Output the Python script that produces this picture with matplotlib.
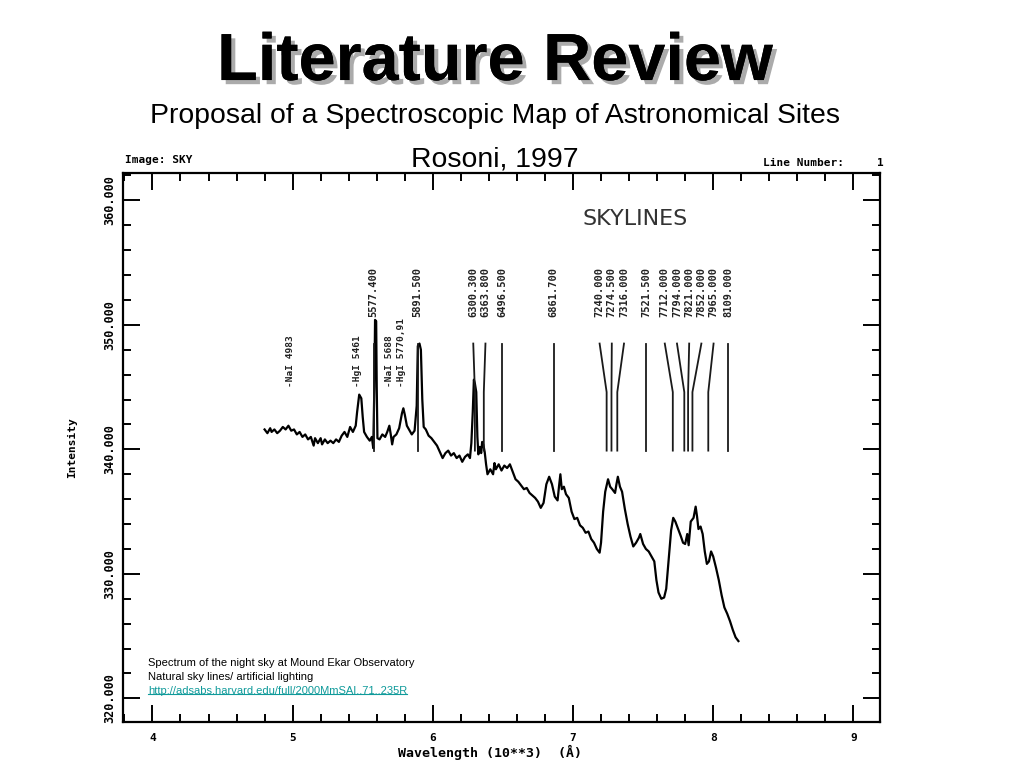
import matplotlib
matplotlib.use('Agg')
import matplotlib.pyplot as plt
import matplotlib.patheffects as pe
from matplotlib.ticker import MultipleLocator, FormatStrFormatter
from matplotlib.lines import Line2D

# night sky spectrum, wavelength in 10**3 A
wavelength = [4.80, 4.82, 4.84, 4.85, 4.87, 4.89, 4.91, 4.93, 4.95, 4.97,
              4.99, 5.01, 5.03, 5.05, 5.07, 5.09, 5.11, 5.13, 5.15, 5.16,
              5.18, 5.20, 5.21, 5.23, 5.25, 5.27, 5.29, 5.31, 5.33, 5.35,
              5.37, 5.39, 5.41, 5.43, 5.45, 5.46, 5.475, 5.49, 5.50, 5.51,
              5.53, 5.55, 5.565, 5.575, 5.583, 5.588, 5.596, 5.600, 5.605, 5.62,
              5.64, 5.66, 5.675, 5.69, 5.70, 5.71, 5.72, 5.74, 5.76, 5.78,
              5.79, 5.80, 5.815, 5.83, 5.85, 5.87, 5.885, 5.893, 5.905, 5.915,
              5.925, 5.935, 5.95, 5.97, 5.99, 6.01, 6.03, 6.05, 6.07, 6.09,
              6.11, 6.13, 6.15, 6.17, 6.19, 6.21, 6.23, 6.25, 6.265, 6.275,
              6.285, 6.293, 6.30, 6.31, 6.318, 6.325, 6.335, 6.345, 6.352, 6.36,
              6.37, 6.38, 6.39, 6.41, 6.43, 6.44, 6.45, 6.47, 6.49, 6.51,
              6.53, 6.55, 6.57, 6.59, 6.61, 6.63, 6.65, 6.67, 6.69, 6.71,
              6.73, 6.75, 6.77, 6.79, 6.81, 6.83, 6.85, 6.87, 6.89, 6.90,
              6.91, 6.92, 6.935, 6.95, 6.97, 6.99, 7.01, 7.03, 7.05, 7.07,
              7.09, 7.11, 7.13, 7.15, 7.17, 7.19, 7.20, 7.215, 7.23, 7.25,
              7.265, 7.28, 7.30, 7.31, 7.32, 7.335, 7.35, 7.37, 7.39, 7.41,
              7.43, 7.45, 7.47, 7.48, 7.50, 7.52, 7.54, 7.56, 7.58, 7.595,
              7.61, 7.63, 7.65, 7.665, 7.68, 7.70, 7.715, 7.73, 7.75, 7.77,
              7.785, 7.80, 7.815, 7.825, 7.84, 7.86, 7.875, 7.885, 7.895, 7.91,
              7.925, 7.94, 7.955, 7.97, 7.985, 8.00, 8.02, 8.04, 8.06, 8.08,
              8.10, 8.12, 8.14, 8.16, 8.18]
intensity = [341.6, 341.3, 341.7, 341.4, 341.6, 341.3, 341.5, 341.8, 341.6, 341.9,
             341.5, 341.6, 341.2, 341.4, 341.0, 341.2, 340.8, 341.0, 340.3, 340.9,
             340.5, 340.9, 340.4, 340.8, 340.5, 340.7, 340.5, 340.8, 340.6, 341.1,
             341.4, 341.0, 341.8, 341.4, 341.9, 343.0, 344.4, 344.1, 342.6, 341.4,
             341.0, 340.7, 341.0, 340.1, 345.0, 350.4, 350.3, 345.0, 340.9, 340.8,
             341.2, 341.0, 341.4, 341.9, 341.2, 340.4, 341.0, 341.2, 341.7, 342.9,
             343.3, 342.8, 341.9, 341.6, 341.2, 341.5, 343.5, 348.3, 348.5, 348.0,
             344.0, 341.8, 341.6, 341.1, 340.9, 340.6, 340.3, 339.8, 339.3, 339.7,
             339.9, 339.5, 339.7, 339.3, 339.5, 339.0, 339.4, 339.6, 339.3, 340.5,
             343.0, 345.6, 345.3, 344.6, 341.0, 339.6, 340.2, 339.7, 340.6, 340.4,
             339.8, 338.8, 338.0, 338.4, 338.0, 338.9, 338.4, 338.8, 338.3, 338.7,
             338.5, 338.8, 338.2, 337.6, 337.4, 337.1, 336.8, 336.9, 336.5, 336.3,
             336.1, 335.8, 335.3, 335.7, 337.2, 337.8, 337.2, 336.2, 335.9, 337.0,
             338.0, 336.8, 337.0, 336.4, 336.1, 335.0, 334.4, 334.5, 333.9, 333.7,
             333.3, 333.4, 332.8, 332.5, 332.0, 331.7, 332.5, 335.0, 336.6, 337.6,
             337.0, 336.8, 336.5, 337.2, 337.8, 337.0, 336.6, 335.2, 334.0, 333.0,
             332.2, 332.5, 332.9, 333.2, 332.4, 332.0, 331.8, 331.4, 331.0, 329.5,
             328.5, 328.0, 328.1, 328.8, 330.8, 333.5, 334.5, 334.2, 333.6, 333.0,
             332.5, 332.4, 333.2, 332.3, 334.2, 334.5, 335.4, 334.6, 333.6, 333.8,
             333.2, 331.8, 330.8, 331.0, 331.8, 331.4, 330.5, 329.5, 328.3, 327.3,
             326.8, 326.2, 325.5, 324.9, 324.6]

# identified sky lines
line_wl = [5.5774, 5.8915, 6.3003, 6.3638, 6.4965, 6.8617, 7.2400, 7.2745,
           7.3160, 7.5215, 7.7120, 7.7940, 7.8210, 7.8520, 7.9650, 8.1090]
line_labels = ['5577.400', '5891.500', '6300.300', '6363.800', '6496.500',
               '6861.700', '7240.000', '7274.500', '7316.000', '7521.500',
               '7712.000', '7794.000', '7821.000', '7852.000', '7965.000',
               '8109.000']

# artificial lighting lines
element_wl = [4.983, 5.461, 5.688, 5.780]
element_labels = ['-NaI 4983', '-HgI 5461', '-NaI 5688', '-HgI 5770,91']

notes = ['Spectrum of the night sky at Mound Ekar Observatory',
         'Natural sky lines/ artificial lighting',
         'http://adsabs.harvard.edu/full/2000MmSAI..71..235R']


def spread(vals, gap):
    # push crowded labels apart, keeping each cluster centred
    clusters = []
    for v in vals:
        clusters.append([v])
        while len(clusters) > 1:
            a, b = clusters[-2], clusters[-1]
            ca = sum(a) / len(a)
            cb = sum(b) / len(b)
            end_a = ca + (len(a) - 1) / 2 * gap
            start_b = cb - (len(b) - 1) / 2 * gap
            if start_b - end_a < gap:
                clusters[-2:] = [a + b]
            else:
                break
    pos = []
    for c in clusters:
        m = sum(c) / len(c)
        for i in range(len(c)):
            pos.append(m + (i - (len(c) - 1) / 2) * gap)
    return pos


fig = plt.figure(figsize=(10.24, 7.68), dpi=100)
fig.patch.set_facecolor('white')

title = fig.text(0.483, 0.8958, 'Literature Review', ha='center', va='baseline',
                 fontsize=48, fontweight='bold', family='Liberation Sans')
title.set_path_effects([pe.withSimplePatchShadow(offset=(3, -3), shadow_rgbFace='#888888', alpha=0.7),
                        pe.Normal()])
fig.text(0.483, 0.8398, 'Proposal of a Spectroscopic Map of Astronomical Sites',
         ha='center', va='baseline', fontsize=20.4, family='Liberation Sans')
fig.text(0.483, 0.7826, 'Rosoni, 1997', ha='center', va='baseline',
         fontsize=20.4, family='Liberation Sans')

ax = fig.add_axes([123 / 1024, 1 - 722 / 768, 757 / 1024, 549 / 768])
ax.plot(wavelength, intensity, color='black', lw=1.6)

ax.set_xlim(3.79, 9.19)
ax.set_ylim(318.1, 362.2)

mono = 'DejaVu Sans Mono'

# sky line markers with their labels
tops = spread(line_wl, 0.087)
for wl, top, lab in zip(line_wl, tops, line_labels):
    ax.plot([top, wl, wl], [348.5, 344.6, 339.9], color='#1a1a1a', lw=1.3)
    ax.text(top, 350.6, lab, rotation=90, ha='center', va='bottom',
            fontsize=7.5, fontweight='bold', family=mono, color='#222222')

for wl, lab in zip(element_wl, element_labels):
    ax.text(wl, 345.0, lab, rotation=90, ha='center', va='bottom',
            fontsize=6.8, fontweight='bold', family=mono, color='#222222')

ax.text(7.445, 358.5, 'SKYLINES', ha='center', va='center', fontsize=16,
        family='DejaVu Sans', color='#333333')

# axes in the style of the old plotter output
for s in ax.spines.values():
    s.set_linewidth(1.6)
ax.xaxis.set_major_locator(MultipleLocator(1))
ax.xaxis.set_minor_locator(MultipleLocator(0.2))
ax.yaxis.set_major_locator(MultipleLocator(10))
ax.yaxis.set_minor_locator(MultipleLocator(2))
ax.yaxis.set_major_formatter(FormatStrFormatter('%.3f'))
ax.tick_params(which='both', direction='in', top=True, right=True, width=1.4)
ax.tick_params(which='major', length=12)
ax.tick_params(which='minor', length=6)
ax.tick_params(axis='x', pad=8, labelsize=8)
ax.tick_params(axis='y', pad=5, labelsize=8.5)
for lab in ax.get_xticklabels():
    lab.set_family(mono)
    lab.set_fontweight('bold')
for lab in ax.get_yticklabels():
    lab.set_family(mono)
    lab.set_fontweight('bold')
    lab.set_rotation(90)
    lab.set_va('center')

ax.text(0.485, -0.055, 'Wavelength (10**3)  (\u00c5)', transform=ax.transAxes,
        ha='center', va='center', fontsize=9.5, fontweight='bold', family=mono)
ax.text(-0.067, 0.50, 'Intensity', transform=ax.transAxes, rotation=90,
        ha='center', va='center', fontsize=8, fontweight='bold', family=mono)
ax.text(0.003, 1.024, 'Image: SKY', transform=ax.transAxes, ha='left',
        va='center', fontsize=8, fontweight='bold', family=mono)
ax.text(0.845, 1.018, 'Line Number:', transform=ax.transAxes, ha='left',
        va='center', fontsize=8, fontweight='bold', family=mono)
ax.text(1.0, 1.018, '1', transform=ax.transAxes, ha='center',
        va='center', fontsize=8, fontweight='bold', family=mono)

# caption inside the chart
ys = [0.1367, 0.1185, 0.1003]
for txt, y in zip(notes[:2], ys[:2]):
    fig.text(0.1445, y, txt, ha='left', va='center', fontsize=8, family='Liberation Sans')
link = fig.text(0.1445, ys[2], notes[2], ha='left', va='center', fontsize=8,
                family='Liberation Sans', color='#0f9a9a')
fig.canvas.draw()
bb = link.get_window_extent().transformed(fig.transFigure.inverted())
fig.add_artist(Line2D([bb.x0, bb.x1], [bb.y0 + 0.002, bb.y0 + 0.002],
                      transform=fig.transFigure, color='#0f9a9a', lw=0.8))

fig.savefig('out.png', dpi=100)
